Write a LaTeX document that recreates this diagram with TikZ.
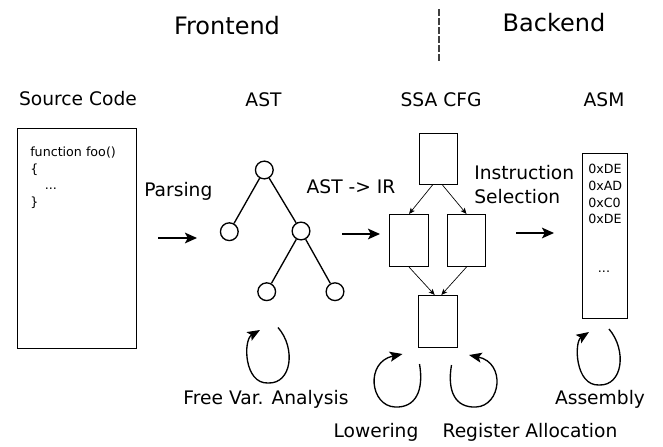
\documentclass[tikz,border=0pt]{standalone}
\usepackage{fontspec}
\setmainfont{DejaVu Sans}
\usetikzlibrary{arrows.meta}
\begin{document}
\begin{tikzpicture}[x=0.75pt,y=-0.75pt,
  box/.style={draw, line width=0.8pt, inner sep=0pt},
  dot/.style={draw, circle, line width=1pt, minimum size=13.3pt, inner sep=0pt},
  edge/.style={line width=1pt},
  bigarrow/.style={line width=1.1pt, -{Stealth[length=9pt,width=8pt,inset=2pt]}},
  smallarrow/.style={line width=0.5pt, -{Stealth[length=4.5pt,width=3.8pt,inset=1pt]}},
  loopar/.style={line width=1pt, -{Stealth[length=9.5pt,width=7.5pt,inset=2pt]}},
  lbl/.style={font=\fontsize{14}{17}\selectfont, inner sep=0pt},
  big/.style={font=\fontsize{18}{22}\selectfont, inner sep=0pt},
  code/.style={font=\fontsize{9.5}{12.6}\selectfont, inner sep=0pt, align=left}]
\useasboundingbox (0,0) rectangle (663,446);

% top titles
\node[big, anchor=base] (fe) at (227,34) {Frontend};
\node[big, anchor=base] (be) at (554,31.3) {Backend};
\coordinate (d1) at (439,9);
\coordinate (d2) at (439,61);
\draw[line width=0.8pt, color=black!75, dash pattern=on 5pt off 1.8pt] (d1) -- (d2);

% column headers
\node[lbl, anchor=base] (hsrc) at (78,105) {Source Code};
\node[lbl, anchor=base] (hast) at (263.5,106.5) {AST};
\node[lbl, anchor=base] (hssa) at (441,106.5) {SSA CFG};
\node[lbl, anchor=base] (hasm) at (604,106) {ASM};

% source code box
\node[box, minimum width=119*0.75pt, minimum height=220*0.75pt] (src) at (77,238.5) {};
\node[code, anchor=north west] (srctxt) at (30,146.5) {function foo()\\\{\\\hspace*{11pt}...\\\}};

% parsing
\node[lbl, anchor=base west] (parsing) at (144,196.7) {Parsing};
\coordinate (pa1) at (158,238);
\coordinate (pa2) at (197,238);
\draw[bigarrow] (pa1) -- (pa2);

% AST tree
\node[dot] (r) at (264.3,170) {};
\node[dot] (a) at (229.3,231.7) {};
\node[dot] (b) at (301,231) {};
\node[dot] (c) at (266.7,291.7) {};
\node[dot] (d) at (335,291.7) {};
\draw[edge] (r) -- (a);
\draw[edge] (r) -- (b);
\draw[edge] (b) -- (c);
\draw[edge] (b) -- (d);

% AST -> IR
\node[lbl, anchor=base] (astir) at (351,193) {AST -> IR};
\coordinate (ia1) at (342,234);
\coordinate (ia2) at (380,234);
\draw[bigarrow] (ia1) -- (ia2);

% SSA CFG
\node[box, minimum width=38*0.75pt, minimum height=51*0.75pt] (ct) at (438.5,159) {};
\node[box, minimum width=39*0.75pt, minimum height=52*0.75pt] (cl) at (409,240.5) {};
\node[box, minimum width=38*0.75pt, minimum height=52*0.75pt] (cr) at (466.5,240.5) {};
\node[box, minimum width=39*0.75pt, minimum height=52*0.75pt] (cb) at (438,321.5) {};
\draw[smallarrow] ([xshift=-4.5pt]ct.south) -- (cl.north);
\draw[smallarrow] ([xshift=3pt]ct.south) -- (cr.north);
\draw[smallarrow] (cl.south) -- ([xshift=-2.5pt]cb.north);
\draw[smallarrow] (cr.south) -- ([xshift=2.5pt]cb.north);

% Instruction selection
\node[lbl, anchor=base west] (is1) at (474,179.3) {Instruction};
\node[lbl, anchor=base west] (is2) at (474,203.3) {Selection};
\coordinate (sa1) at (516,233);
\coordinate (sa2) at (554,233);
\draw[bigarrow] (sa1) -- (sa2);

% ASM box
\node[box, minimum width=45*0.75pt, minimum height=165*0.75pt] (asm) at (605,236) {};
\node[code, anchor=north west] (hex) at (588,163.8) {0xDE\\0xAD\\0xC0\\0xDE};
\node[code, anchor=base] (hexdots) at (604,272.5) {...};

% loops
\coordinate (l1s) at (278,327.5);
\coordinate (l1e) at (260,330);
\draw[loopar] (l1s) .. controls (296,348) and (292,384) .. (268,383) .. controls (244,384) and (243,340) .. (l1e);
\node[lbl, anchor=base] (fva) at (266,404.5) {Free Var. Analysis};

\coordinate (l2s) at (419.5,364);
\coordinate (l2e) at (402.5,354);
\draw[loopar] (l2s) .. controls (424,390) and (416,408) .. (395,407) .. controls (370,406) and (365,362) .. (l2e);
\node[lbl, anchor=base] (low) at (376,437) {Lowering};

\coordinate (l3s) at (451.5,365);
\coordinate (l3e) at (469,355);
\draw[loopar] (l3s) .. controls (447,391) and (455,408) .. (476,407) .. controls (501,406) and (506,363) .. (l3e);
\node[lbl, anchor=base] (reg) at (530,437) {Register Allocation};

\coordinate (l4s) at (609,329);
\coordinate (l4e) at (589,332);
\draw[loopar] (l4s) .. controls (627,350) and (623,386) .. (599,385) .. controls (575,386) and (574,342) .. (l4e);
\node[lbl, anchor=base] (asmb) at (600,404.5) {Assembly};
\end{tikzpicture}
\end{document}
